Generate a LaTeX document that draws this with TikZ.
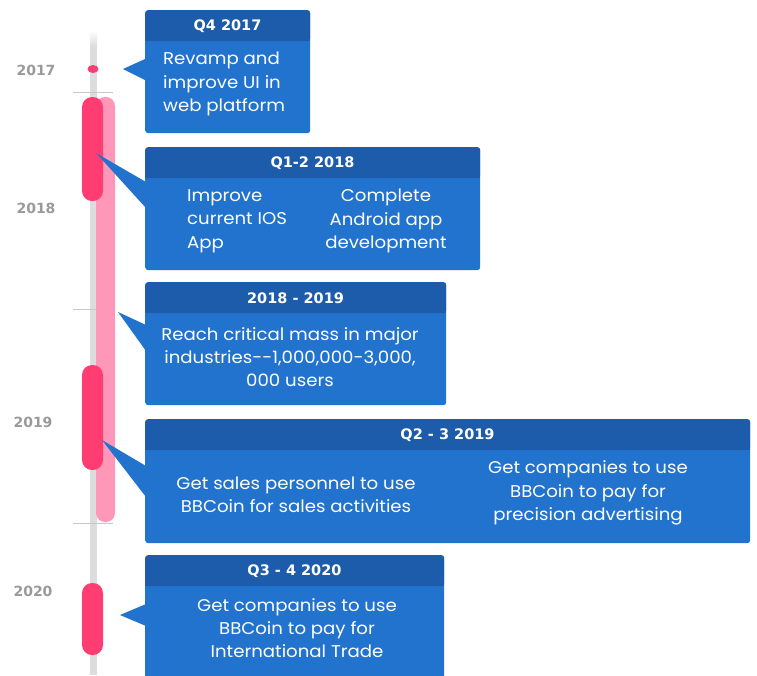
\documentclass[tikz,border=0pt]{standalone}
\usepackage{fontspec}
\setmainfont{Poppins}[FakeStretch=1.067]
\newfontfamily\headfont{DejaVu Sans}
\definecolor{hdr}{HTML}{1D5CAA}
\definecolor{bodyblue}{HTML}{2273CE}
\definecolor{pinkd}{HTML}{FF3D72}
\definecolor{pinkl}{HTML}{FF98B8}
\definecolor{track}{HTML}{DDDDDD}
\definecolor{yeargray}{HTML}{9A9A9A}
\definecolor{tickgray}{HTML}{C8C8C8}
\tikzset{
  boxbody/.style={fill=bodyblue, rounded corners=3pt, inner sep=0pt, anchor=north west},
  boxhead/.style={fill=hdr, rounded corners=3pt, inner sep=0pt, anchor=north west, minimum height=31},
  headtext/.style={text=white, font=\headfont\fontsize{14.5}{17}\selectfont\bfseries},
  bodytext/.style={text=white, font=\fontsize{17}{23.3}\selectfont, inner sep=0pt},
  yearlabel/.style={text=yeargray, font=\headfont\fontsize{14}{17}\selectfont\bfseries},
  ptr/.style={fill=bodyblue},
  tickline/.style={draw=tickgray, line width=0.8pt},
  bardark/.style={fill=pinkd, rounded corners=10pt},
  barlight/.style={fill=pinkl, rounded corners=9pt}
}
\begin{document}
\begin{tikzpicture}[x=1pt,y=-1pt]
\useasboundingbox[fill=white] (0,0) rectangle (757,675);

% track
\fill[track] (90,46) rectangle (97,675);
\shade[top color=white, bottom color=track] (90,30) rectangle (97,46);

% ticks
\draw[tickline] (73,92) -- (113,92);
\draw[tickline] (73,309) -- (113,309);
\draw[tickline] (73,523) -- (113,523);

% bars
\fill[barlight] (96,97) rectangle (115,522);
\fill[bardark] (82,97) rectangle (103,201);
\fill[bardark] (82,365) rectangle (103,470);
\fill[bardark] (82,583) rectangle (103,655);
\fill[pinkd] (93,69) ellipse (5.5 and 4);

% year labels
\node[yearlabel] (y17) at (36,70) {2017};
\node[yearlabel] (y18) at (36,208) {2018};
\node[yearlabel] (y19) at (33,422) {2019};
\node[yearlabel] (y20) at (33,591) {2020};

% box 1
\node[boxbody, minimum width=165, minimum height=123] (b1) at (145,10) {};
\node[boxhead, minimum width=165] (h1) at (145,10) {};
\fill[hdr] (145,30) rectangle (310,41);
\fill[ptr] (123,69) -- (145,59) -- (145,80) -- cycle;
\node[headtext] (t1) at (227.5,26) {Q4 2017};
\node[bodytext, align=left, anchor=west] (c1) at (163,84) {Revamp and\\improve UI in\\web platform};

% box 2
\node[boxbody, minimum width=335, minimum height=123] (b2) at (145,147) {};
\node[boxhead, minimum width=335] (h2) at (145,147) {};
\fill[hdr] (145,167) rectangle (480,178);
\fill[ptr] (96,153) -- (146,182) -- (146,208) -- cycle;
\node[headtext] (t2) at (312.5,163) {Q1-2 2018};
\node[bodytext, align=left, anchor=west] (c2a) at (187,221) {Improve\\current IOS\\App};
\node[bodytext, align=center] (c2b) at (386,221) {Complete\\Android app\\development};

% box 3
\node[boxbody, minimum width=301, minimum height=123] (b3) at (145,282) {};
\node[boxhead, minimum width=301] (h3) at (145,282) {};
\fill[hdr] (145,302) rectangle (446,313);
\fill[ptr] (118,312) -- (146,325) -- (146,351) -- cycle;
\node[headtext] (t3) at (295.5,298) {2018 - 2019};
\node[bodytext, align=center] (c3) at (290,357) {Reach critical mass in major\\industries-{}-1,000,000-3,000,\\000 users};

% box 4
\node[boxbody, minimum width=605, minimum height=124] (b4) at (145,419) {};
\node[boxhead, minimum width=605] (h4) at (145,419) {};
\fill[hdr] (145,439) rectangle (750,450);
\fill[ptr] (102,440) -- (146,466) -- (146,497) -- cycle;
\node[headtext] (t4) at (447.5,435) {Q2 - 3 2019};
\node[bodytext, align=center] (c4a) at (296,494.5) {Get sales personnel to use\\BBCoin for sales activities};
\node[bodytext, align=center] (c4b) at (588,493) {Get companies to use\\BBCoin to pay for\\precision advertising};

% box 5
\node[boxbody, minimum width=299, minimum height=130] (b5) at (145,555) {};
\node[boxhead, minimum width=299] (h5) at (145,555) {};
\fill[hdr] (145,575) rectangle (444,586);
\fill[ptr] (120,615) -- (146,604) -- (146,626) -- cycle;
\node[headtext] (t5) at (294.5,571) {Q3 - 4 2020};
\node[bodytext, align=center] (c5) at (297,628) {Get companies to use\\BBCoin to pay for\\International Trade};
\end{tikzpicture}
\end{document}
